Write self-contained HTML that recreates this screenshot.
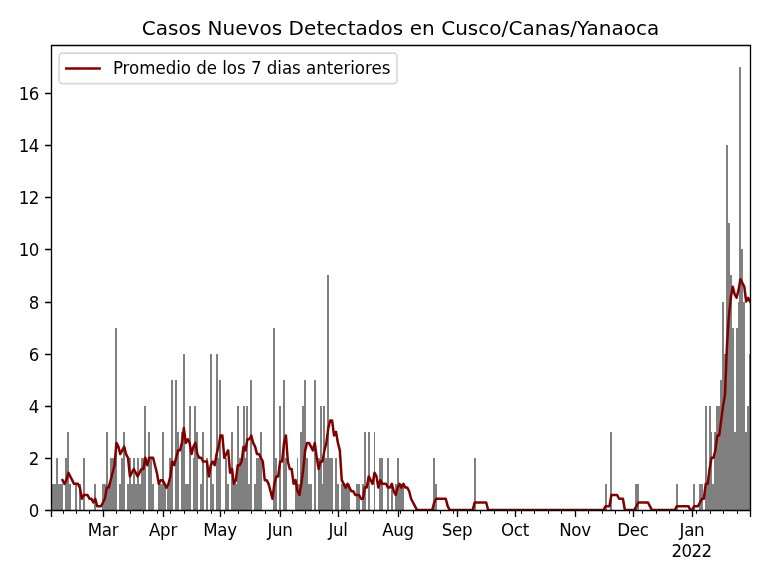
<!DOCTYPE html>
<html lang="es"><head><meta charset="utf-8"><title>Casos Nuevos Detectados en Cusco/Canas/Yanaoca</title>
<style>html,body{margin:0;padding:0;background:#fff}svg{display:block}</style></head>
<body>
<svg width="768" height="576" viewBox="0 0 768 576">
<rect width="768" height="576" fill="#fff"/>
<path shape-rendering="crispEdges" fill="#808080" d="M51 484H52V511H51zM52 484H54V511H52zM54 484H56V511H54zM56 458H58V511H56zM58 484H60V511H58zM60 484H62V511H60zM62 484H63V511H62zM65 458H67V511H65zM67 432H69V511H67zM69 484H71V511H69zM75 484H77V511H75zM79 484H81V511H79zM83 458H85V511H83zM94 484H96V511H94zM102 484H104V511H102zM104 484H106V511H104zM106 432H108V511H106zM108 484H110V511H108zM110 458H112V511H110zM112 458H114V511H112zM114 458H115V511H114zM115 328H117V511H115zM119 484H121V511H119zM121 458H123V511H121zM123 432H125V511H123zM127 484H129V511H127zM129 458H131V511H129zM131 484H133V511H131zM133 458H135V511H133zM135 484H137V511H135zM137 458H139V511H137zM139 484H141V511H139zM141 458H142V511H141zM142 458H144V511H142zM144 406H146V511H144zM148 432H150V511H148zM150 458H152V511H150zM152 484H154V511H152zM158 484H160V511H158zM160 484H162V511H160zM162 432H164V511H162zM164 484H166V511H164zM167 484H169V511H167zM169 458H171V511H169zM171 380H173V511H171zM175 380H177V511H175zM177 432H179V511H177zM181 432H183V511H181zM183 354H185V511H183zM185 484H187V511H185zM187 484H189V511H187zM189 406H191V511H189zM193 458H194V511H193zM194 406H196V511H194zM196 432H198V511H196zM200 484H202V511H200zM202 432H204V511H202zM206 458H208V511H206zM210 354H212V511H210zM212 484H214V511H212zM216 354H218V511H216zM218 458H219V511H218zM219 380H221V511H219zM225 458H227V511H225zM227 484H229V511H227zM231 432H233V511H231zM233 484H235V511H233zM235 484H237V511H235zM237 406H239V511H237zM239 458H241V511H239zM241 458H243V511H241zM243 406H245V511H243zM245 458H246V511H245zM246 406H248V511H246zM248 484H250V511H248zM250 380H252V511H250zM254 484H256V511H254zM256 458H258V511H256zM258 458H260V511H258zM260 432H262V511H260zM273 328H275V511H273zM275 458H277V511H275zM279 406H281V511H279zM283 380H285V511H283zM285 458H287V511H285zM295 484H297V511H295zM297 458H298V511H297zM298 484H300V511H298zM300 432H302V511H300zM302 406H304V511H302zM304 380H306V511H304zM306 458H308V511H306zM308 484H310V511H308zM310 484H312V511H310zM314 380H316V511H314zM318 458H320V511H318zM320 406H322V511H320zM322 484H323V511H322zM323 406H325V511H323zM325 458H327V511H325zM327 275H329V511H327zM329 458H331V511H329zM331 458H333V511H331zM335 458H337V511H335zM337 484H339V511H337zM341 484H343V511H341zM343 484H345V511H343zM345 484H347V511H345zM347 484H349V511H347zM349 484H350V511H349zM356 484H358V511H356zM358 484H360V511H358zM362 484H364V511H362zM364 432H366V511H364zM368 432H370V511H368zM374 432H375V511H374zM379 458H381V511H379zM381 458H383V511H381zM387 458H389V511H387zM391 484H393V511H391zM395 484H397V511H395zM397 458H399V511H397zM399 484H401V511H399zM401 484H402V511H401zM402 484H404V511H402zM433 458H435V511H433zM435 484H437V511H435zM474 458H476V511H474zM605 484H607V511H605zM610 432H612V511H610zM635 484H637V511H635zM637 484H639V511H637zM676 484H678V511H676zM693 484H695V511H693zM699 484H701V511H699zM701 484H703V511H701zM705 406H707V511H705zM707 484H709V511H707zM709 406H711V511H709zM711 432H712V511H711zM712 484H714V511H712zM714 432H716V511H714zM716 406H718V511H716zM718 406H720V511H718zM720 380H722V511H720zM722 302H724V511H722zM724 354H726V511H724zM726 145H728V511H726zM728 223H730V511H728zM730 275H732V511H730zM732 328H734V511H732zM734 432H736V511H734zM736 328H738V511H736zM738 302H739V511H738zM739 67H741V511H739zM741 249H743V511H741zM743 302H745V511H743zM745 432H747V511H745zM747 406H749V511H747zM749 354H751V511H749z"/>
<clipPath id="c"><rect x="51.47" y="45.46" width="699.07" height="464.94"/></clipPath>
<polyline clip-path="url(#c)" points="62.52,480.13 64.45,483.85 66.38,480.13 68.30,472.69 70.23,476.41 72.15,480.13 74.08,483.85 76.01,483.85 77.93,483.85 79.86,487.57 81.78,498.74 83.71,495.02 85.63,495.02 87.56,495.02 89.49,498.74 91.41,498.74 93.34,502.46 95.26,498.74 97.19,506.18 99.11,506.18 101.04,506.18 102.97,502.46 104.89,498.74 106.82,487.57 108.74,487.57 110.67,480.13 112.60,472.69 114.52,465.25 116.45,442.92 118.37,446.64 120.30,454.08 122.22,450.36 124.15,446.64 126.08,454.08 128.00,457.81 129.93,476.41 131.85,472.69 133.78,468.97 135.71,472.69 137.63,476.41 139.56,472.69 141.48,468.97 143.41,468.97 145.33,457.81 147.26,465.25 149.19,457.81 151.11,457.81 153.04,457.81 154.96,465.25 156.89,472.69 158.81,483.85 160.74,480.13 162.67,480.13 164.59,483.85 166.52,487.57 168.44,483.85 170.37,476.41 172.30,461.53 174.22,465.25 176.15,457.81 178.07,450.36 180.00,450.36 181.92,442.92 183.85,428.04 185.78,442.92 187.70,439.20 189.63,442.92 191.55,454.08 193.48,446.64 195.41,442.92 197.33,454.08 199.26,457.81 201.18,457.81 203.11,461.53 205.03,461.53 206.96,461.53 208.89,476.41 210.81,465.25 212.74,461.53 214.66,465.25 216.59,454.08 218.51,446.64 220.44,435.48 222.37,435.48 224.29,457.81 226.22,454.08 228.14,450.36 230.07,472.69 232.00,468.97 233.92,483.85 235.85,480.13 237.77,465.25 239.70,465.25 241.62,461.53 243.55,446.64 245.48,450.36 247.40,439.20 249.33,439.20 251.25,435.48 253.18,442.92 255.10,446.64 257.03,454.08 258.96,454.08 260.88,457.81 262.81,461.53 264.73,480.13 266.66,480.13 268.59,483.85 270.51,491.29 272.44,498.74 274.36,483.85 276.29,476.41 278.21,476.41 280.14,461.53 282.07,461.53 283.99,442.92 285.92,435.48 287.84,461.53 289.77,468.97 291.69,468.97 293.62,483.85 295.55,480.13 297.47,491.29 299.40,495.02 301.32,483.85 303.25,468.97 305.18,450.36 307.10,442.92 309.03,442.92 310.95,446.64 312.88,450.36 314.80,442.92 316.73,457.81 318.66,468.97 320.58,461.53 322.51,461.53 324.43,450.36 326.36,442.92 328.29,428.04 330.21,420.60 332.14,420.60 334.06,435.48 335.99,431.76 337.91,442.92 339.84,450.36 341.77,480.13 343.69,483.85 345.62,487.57 347.54,483.85 349.47,487.57 351.39,491.29 353.32,491.29 355.25,495.02 357.17,495.02 359.10,495.02 361.02,498.74 362.95,498.74 364.88,487.57 366.80,487.57 368.73,476.41 370.65,480.13 372.58,483.85 374.50,472.69 376.43,476.41 378.36,487.57 380.28,480.13 382.21,483.85 384.13,483.85 386.06,483.85 387.99,487.57 389.91,487.57 391.84,483.85 393.76,491.29 395.69,495.02 397.61,487.57 399.54,483.85 401.47,487.57 403.39,483.85 405.32,487.57 407.24,487.57 409.17,491.29 411.09,498.74 413.02,502.46 414.95,506.18 416.87,509.90 418.80,509.90 420.72,509.90 422.65,509.90 424.58,509.90 426.50,509.90 428.43,509.90 430.35,509.90 432.28,509.90 434.20,502.46 436.13,498.74 438.06,498.74 439.98,498.74 441.91,498.74 443.83,498.74 445.76,498.74 447.68,506.18 449.61,509.90 451.54,509.90 453.46,509.90 455.39,509.90 457.31,509.90 459.24,509.90 461.17,509.90 463.09,509.90 465.02,509.90 466.94,509.90 468.87,509.90 470.79,509.90 472.72,509.90 474.65,502.46 476.57,502.46 478.50,502.46 480.42,502.46 482.35,502.46 484.27,502.46 486.20,502.46 488.13,509.90 490.05,509.90 491.98,509.90 493.90,509.90 495.83,509.90 497.76,509.90 499.68,509.90 501.61,509.90 503.53,509.90 505.46,509.90 507.38,509.90 509.31,509.90 511.24,509.90 513.16,509.90 515.09,509.90 517.01,509.90 518.94,509.90 520.87,509.90 522.79,509.90 524.72,509.90 526.64,509.90 528.57,509.90 530.49,509.90 532.42,509.90 534.35,509.90 536.27,509.90 538.20,509.90 540.12,509.90 542.05,509.90 543.97,509.90 545.90,509.90 547.83,509.90 549.75,509.90 551.68,509.90 553.60,509.90 555.53,509.90 557.46,509.90 559.38,509.90 561.31,509.90 563.23,509.90 565.16,509.90 567.08,509.90 569.01,509.90 570.94,509.90 572.86,509.90 574.79,509.90 576.71,509.90 578.64,509.90 580.57,509.90 582.49,509.90 584.42,509.90 586.34,509.90 588.27,509.90 590.19,509.90 592.12,509.90 594.05,509.90 595.97,509.90 597.90,509.90 599.82,509.90 601.75,509.90 603.67,509.90 605.60,506.18 607.53,506.18 609.45,506.18 611.38,495.02 613.30,495.02 615.23,495.02 617.16,495.02 619.08,498.74 621.01,498.74 622.93,498.74 624.86,509.90 626.78,509.90 628.71,509.90 630.64,509.90 632.56,509.90 634.49,509.90 636.41,506.18 638.34,502.46 640.26,502.46 642.19,502.46 644.12,502.46 646.04,502.46 647.97,502.46 649.89,506.18 651.82,509.90 653.75,509.90 655.67,509.90 657.60,509.90 659.52,509.90 661.45,509.90 663.37,509.90 665.30,509.90 667.23,509.90 669.15,509.90 671.08,509.90 673.00,509.90 674.93,509.90 676.86,506.18 678.78,506.18 680.71,506.18 682.63,506.18 684.56,506.18 686.48,506.18 688.41,506.18 690.34,509.90 692.26,509.90 694.19,506.18 696.11,506.18 698.04,506.18 699.96,502.46 701.89,498.74 703.82,498.74 705.74,483.85 707.67,483.85 709.59,468.97 711.52,457.81 713.45,457.81 715.37,450.36 717.30,435.48 719.22,435.48 721.15,420.60 723.07,405.71 725.00,394.55 726.93,346.18 728.85,316.41 730.78,297.80 732.70,286.64 734.63,294.08 736.55,297.80 738.48,290.36 740.41,279.20 742.33,282.92 744.26,286.64 746.18,301.52 748.11,297.80 750.04,301.52" fill="none" stroke="#800000" stroke-width="2.5" stroke-linejoin="round" stroke-linecap="square"/>
<path d="M51.5 510.5V45.5H750.5V510.5z" fill="none" stroke="#000" stroke-width="1.33" stroke-linejoin="miter"/>
<path d="M51.5 510.5v6.4M103.5 510.5v6.4M163.5 510.5v6.4M220.5 510.5v6.4M280.5 510.5v6.4M338.5 510.5v6.4M398.5 510.5v6.4M457.5 510.5v6.4M515.5 510.5v6.4M575.5 510.5v6.4M633.5 510.5v6.4M692.5 510.5v6.4M750.5 510.5v6.4" stroke="#000" stroke-width="1.33" fill="none"/>
<path d="M63.5 510.5v3.33M76.5 510.5v3.33M89.5 510.5v3.33M116.5 510.5v3.33M130.5 510.5v3.33M143.5 510.5v3.33M157.5 510.5v3.33M170.5 510.5v3.33M184.5 510.5v3.33M197.5 510.5v3.33M211.5 510.5v3.33M224.5 510.5v3.33M238.5 510.5v3.33M251.5 510.5v3.33M265.5 510.5v3.33M278.5 510.5v3.33M292.5 510.5v3.33M305.5 510.5v3.33M319.5 510.5v3.33M332.5 510.5v3.33M346.5 510.5v3.33M359.5 510.5v3.33M373.5 510.5v3.33M386.5 510.5v3.33M400.5 510.5v3.33M413.5 510.5v3.33M427.5 510.5v3.33M440.5 510.5v3.33M453.5 510.5v3.33M467.5 510.5v3.33M480.5 510.5v3.33M494.5 510.5v3.33M507.5 510.5v3.33M521.5 510.5v3.33M534.5 510.5v3.33M548.5 510.5v3.33M561.5 510.5v3.33M588.5 510.5v3.33M602.5 510.5v3.33M615.5 510.5v3.33M629.5 510.5v3.33M642.5 510.5v3.33M656.5 510.5v3.33M669.5 510.5v3.33M683.5 510.5v3.33M696.5 510.5v3.33M710.5 510.5v3.33M723.5 510.5v3.33M737.5 510.5v3.33" stroke="#000" stroke-width="1" fill="none"/>
<g font-family="'DejaVu Sans','Liberation Sans',sans-serif" fill="#000">
<text transform="matrix(1 0 0 1.07 0 -37.520)" x="103.00" y="536.0" text-anchor="middle" font-size="16.667px" letter-spacing="-0.3px">Mar</text>
<text transform="matrix(1 0 0 1.07 0 -37.520)" x="163.00" y="536.0" text-anchor="middle" font-size="16.667px" letter-spacing="-0.3px">Apr</text>
<text transform="matrix(1 0 0 1.07 0 -37.520)" x="220.00" y="536.0" text-anchor="middle" font-size="16.667px" letter-spacing="-0.3px">May</text>
<text transform="matrix(1 0 0 1.07 0 -37.520)" x="280.00" y="536.0" text-anchor="middle" font-size="16.667px" letter-spacing="-0.3px">Jun</text>
<text transform="matrix(1 0 0 1.07 0 -37.520)" x="338.00" y="536.0" text-anchor="middle" font-size="16.667px" letter-spacing="-0.3px">Jul</text>
<text transform="matrix(1 0 0 1.07 0 -37.520)" x="398.00" y="536.0" text-anchor="middle" font-size="16.667px" letter-spacing="-0.3px">Aug</text>
<text transform="matrix(1 0 0 1.07 0 -37.520)" x="457.00" y="536.0" text-anchor="middle" font-size="16.667px" letter-spacing="-0.3px">Sep</text>
<text transform="matrix(1 0 0 1.07 0 -37.520)" x="515.00" y="536.0" text-anchor="middle" font-size="16.667px" letter-spacing="-0.3px">Oct</text>
<text transform="matrix(1 0 0 1.07 0 -37.520)" x="575.00" y="536.0" text-anchor="middle" font-size="16.667px" letter-spacing="-0.3px">Nov</text>
<text transform="matrix(1 0 0 1.07 0 -37.520)" x="633.00" y="536.0" text-anchor="middle" font-size="16.667px" letter-spacing="-0.3px">Dec</text>
<text transform="matrix(1 0 0 1.07 0 -37.520)" x="692.00" y="536.0" text-anchor="middle" font-size="16.667px" letter-spacing="-0.3px">Jan</text>
<text transform="matrix(1 0 0 1.07 0 -38.990)" x="671.50 681.50 691.50 701.50" y="557.0" text-anchor="start" font-size="16.667px">2022</text>
<path d="M51.5 510.5h-6.4M51.5 458.5h-6.4M51.5 406.5h-6.4M51.5 354.5h-6.4M51.5 302.5h-6.4M51.5 249.5h-6.4M51.5 197.5h-6.4M51.5 145.5h-6.4M51.5 93.5h-6.4" stroke="#000" stroke-width="1.33" fill="none"/>
<text transform="matrix(1 0 0 1.07 0 -36.190)" x="28.65" y="517.0" text-anchor="start" font-size="16.667px">0</text>
<text transform="matrix(1 0 0 1.07 0 -32.550)" x="28.65" y="465.0" text-anchor="start" font-size="16.667px">2</text>
<text transform="matrix(1 0 0 1.07 0 -28.910)" x="28.65" y="413.0" text-anchor="start" font-size="16.667px">4</text>
<text transform="matrix(1 0 0 1.07 0 -25.270)" x="28.65" y="361.0" text-anchor="start" font-size="16.667px">6</text>
<text transform="matrix(1 0 0 1.07 0 -21.630)" x="28.65" y="309.0" text-anchor="start" font-size="16.667px">8</text>
<text transform="matrix(1 0 0 1.07 0 -17.920)" x="18.65 28.65" y="256.0" text-anchor="start" font-size="16.667px">10</text>
<text transform="matrix(1 0 0 1.07 0 -14.280)" x="18.65 28.65" y="204.0" text-anchor="start" font-size="16.667px">12</text>
<text transform="matrix(1 0 0 1.07 0 -10.640)" x="18.65 28.65" y="152.0" text-anchor="start" font-size="16.667px">14</text>
<text transform="matrix(1 0 0 1.07 0 -7.000)" x="18.65 28.65" y="100.0" text-anchor="start" font-size="16.667px">16</text>
<rect x="59.1" y="53.1" width="337.90" height="30.60" rx="3.6" ry="3.6" fill="#fff" fill-opacity="0.8" stroke="#ccc" stroke-opacity="0.8" stroke-width="1.667"/>
<path d="M66.3 68.4h33.33" stroke="#800000" stroke-width="2.5" stroke-linecap="square" fill="none"/>
<text transform="matrix(1 0 0 1.07 0 -5.180)" x="112.9" y="74.0" text-anchor="start" font-size="16.667px" textLength="277.5">Promedio de los 7 dias anteriores</text>
</g>
<text x="400.50" y="34.8" text-anchor="middle" font-family="'DejaVu Sans','Liberation Sans',sans-serif" font-size="20px" fill="#000" textLength="517.7">Casos Nuevos Detectados en Cusco/Canas/Yanaoca</text>
</svg>
</body></html>
